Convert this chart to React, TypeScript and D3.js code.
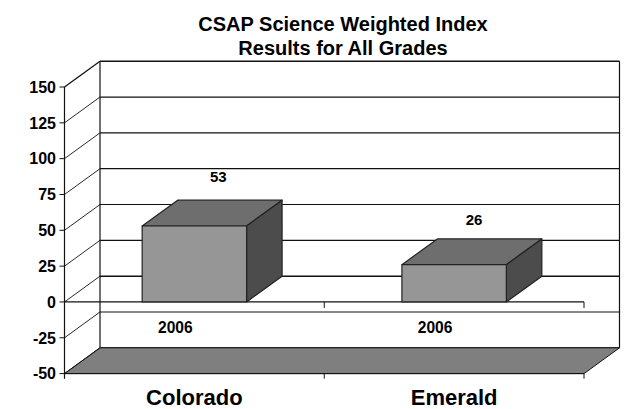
import React from "react";
import * as d3 from "d3";

const titleLines = ["CSAP Science Weighted Index", "Results for All Grades"];
const categories = ["Colorado", "Emerald"];
const seriesLabel = "2006";
const values = [53, 26];
const yTicks = [150, 125, 100, 75, 50, 25, 0, -25, -50];

const W = 631, H = 409;
const left = 64.5, right = 584;
const dx = 35.5, dy = -25.8;
const font = "'Liberation Sans', Arial, sans-serif";
const ink = "#111";
const labelDx = [24, 20];
const labelDy = [-18, -14];

export default function App() {
  const y = d3.scaleLinear().domain([-50, 150]).range([373.6, 87]);
  const x = d3.scaleBand<string>().domain(categories).range([left, right]).paddingInner(0).paddingOuter(0);
  const barW = x.bandwidth() * 0.402;
  const poly = (p: number[][]) => p.map((q) => q.join(",")).join(" ");
  const bandEdges = [left, left + x.bandwidth(), right];

  return (
    <svg width={W} height={H} viewBox={`0 0 ${W} ${H}`} style={{ position: "absolute", left: 0, top: 0, background: "#fff" }}>
      <g fontFamily={font} fontWeight="bold" fill="#000" textAnchor="middle" fontSize={20}>
        {titleLines.map((t, i) => (
          <text key={t} x={343} y={31 + i * 24}>{t}</text>
        ))}
      </g>

      {/* back wall grid */}
      {yTicks.map((t) => (
        <line key={t} x1={left + dx} x2={right + dx} y1={y(t) + dy} y2={y(t) + dy} stroke={ink} strokeWidth={t === 0 || t === 150 ? 1.5 : 1.2} />
      ))}
      <line x1={left + dx} x2={left + dx} y1={y(150) + dy} y2={y(-50) + dy} stroke={ink} strokeWidth={1.2} />
      <line x1={right + dx} x2={right + dx} y1={y(150) + dy} y2={y(-50) + dy} stroke={ink} strokeWidth={1.2} />

      {/* floor */}
      <polygon
        points={poly([[left, y(-50)], [left + dx, y(-50) + dy], [right + dx, y(-50) + dy], [right, y(-50)]])}
        fill="#7f7f7f" stroke={ink} strokeWidth={1}
      />

      {/* left wall */}
      {yTicks.map((t) => (
        <g key={t}>
          <line x1={left} x2={left + dx} y1={y(t)} y2={y(t) + dy} stroke={ink} strokeWidth={t === 150 ? 1.3 : 0.9} />
          <line x1={left - 5} x2={left} y1={y(t)} y2={y(t)} stroke={ink} strokeWidth={1} />
          <text x={56} y={y(t) + 5.8} textAnchor="end" fontFamily={font} fontWeight="bold" fontSize={16} fill="#000">{t}</text>
        </g>
      ))}
      <line x1={left} x2={left} y1={y(150)} y2={y(-50) + 5} stroke={ink} strokeWidth={1.2} />

      {/* zero axis */}
      <line x1={left} x2={right} y1={y(0)} y2={y(0)} stroke={ink} strokeWidth={1.3} />
      {bandEdges.slice(1).map((e) => (
        <line key={e} x1={e} x2={e} y1={y(0)} y2={y(0) + 6} stroke={ink} strokeWidth={1} />
      ))}
      {/* bottom axis */}
      <line x1={left} x2={right} y1={y(-50)} y2={y(-50)} stroke={ink} strokeWidth={1} />
      {bandEdges.map((e) => (
        <line key={e} x1={e} x2={e} y1={y(-50)} y2={y(-50) + 5} stroke={ink} strokeWidth={1} />
      ))}

      {/* bars */}
      {categories.map((c, i) => {
        const cx = x(c)! + x.bandwidth() / 2;
        const x0 = cx - barW / 2, x1 = cx + barW / 2;
        const yt = y(values[i]), yb = y(0);
        return (
          <g key={c} stroke="#222" strokeWidth={1.2} strokeLinejoin="round">
            <polygon points={poly([[x0, yt], [x0 + dx, yt + dy], [x1 + dx, yt + dy], [x1, yt]])} fill="#6e6e6e" />
            <polygon points={poly([[x1, yt], [x1 + dx, yt + dy], [x1 + dx, yb + dy], [x1, yb]])} fill="#4c4c4c" />
            <rect x={x0} y={yt} width={barW} height={yb - yt} fill="#969696" />
            <g stroke="none" fill="#000" fontFamily={font} fontWeight="bold" textAnchor="middle">
              <text x={cx + labelDx[i]} y={yt + dy + labelDy[i]} fontSize={15}>{values[i]}</text>
              <text x={cx - 19} y={333} fontSize={15.6}>{seriesLabel}</text>
              <text x={cx} y={405} fontSize={22}>{c}</text>
            </g>
          </g>
        );
      })}
    </svg>
  );
}
